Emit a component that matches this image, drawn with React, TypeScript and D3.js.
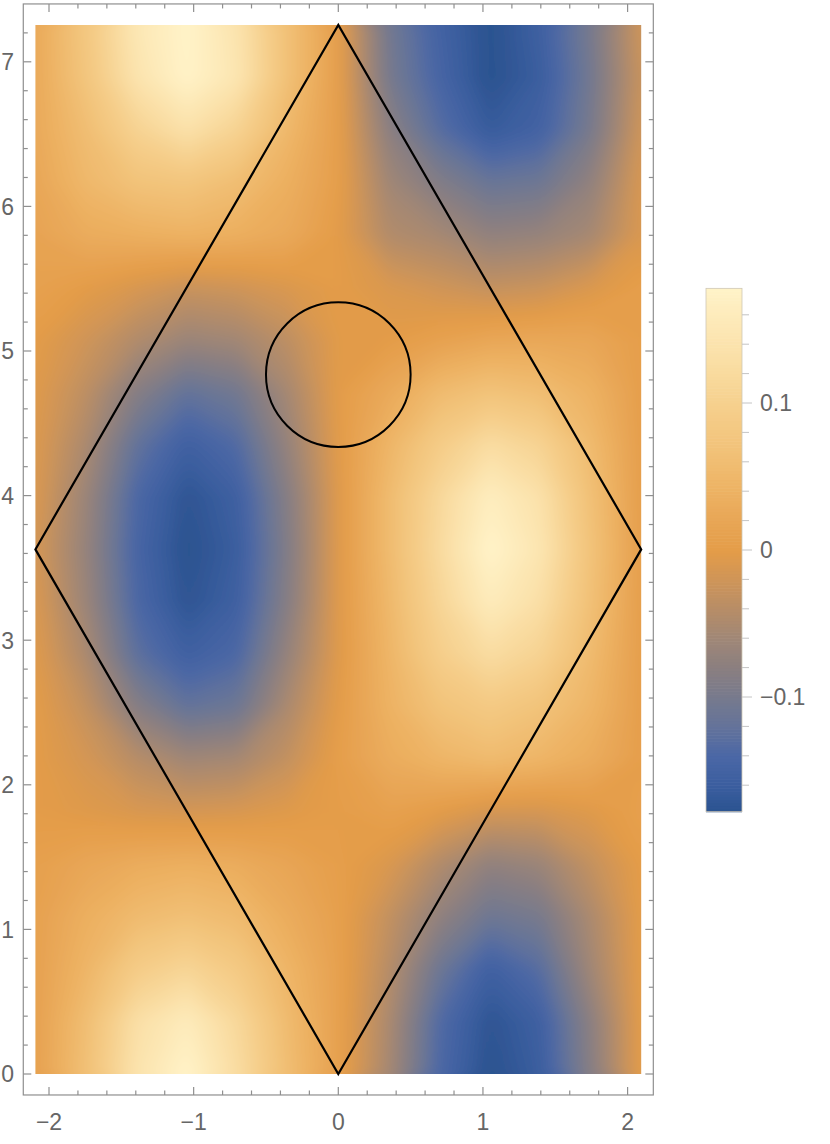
import React, { useEffect, useRef } from 'react';
import * as d3 from 'd3';

const W = 830;
const H = 1144;

// sample points of the density
const gridX = [-2.094, -1.745, -1.396, -1.047, -0.698, -0.349, 0, 0.349, 0.698, 1.047, 1.396, 1.745, 2.094];
const gridY = [0, 0.363, 0.726, 1.088, 1.451, 1.814, 2.177, 2.539, 2.902, 3.265, 3.628, 3.991, 4.354,
  4.716, 5.079, 5.442, 5.805, 6.167, 6.53, 6.893, 7.255];

// one row per gridY value, bottom to top
const field = [
  [0.010, 0.065, 0.140, 0.180, 0.125, 0.060, 0.010, -0.055, -0.140, -0.180, -0.160, -0.085, 0.000],
  [0.010, 0.060, 0.130, 0.160, 0.115, 0.055, 0.010, -0.050, -0.135, -0.175, -0.155, -0.080, 0.000],
  [0.010, 0.045, 0.090, 0.110, 0.085, 0.045, 0.010, -0.040, -0.110, -0.155, -0.130, -0.060, 0.000],
  [0.010, 0.035, 0.055, 0.065, 0.055, 0.030, 0.008, -0.030, -0.075, -0.110, -0.100, -0.050, 0.000],
  [0.008, 0.020, 0.030, 0.035, 0.030, 0.018, 0.005, -0.010, -0.045, -0.075, -0.065, -0.030, 0.002],
  [0.000, -0.005, -0.012, -0.015, -0.012, -0.005, 0.002, 0.010, 0.000, -0.015, -0.015, -0.005, 0.008],
  [0.000, -0.015, -0.040, -0.060, -0.055, -0.030, 0.005, 0.030, 0.045, 0.055, 0.045, 0.030, 0.005],
  [0.000, -0.030, -0.085, -0.120, -0.110, -0.050, 0.000, 0.040, 0.070, 0.085, 0.070, 0.045, 0.005],
  [-0.005, -0.050, -0.125, -0.155, -0.140, -0.070, -0.005, 0.045, 0.095, 0.125, 0.105, 0.055, 0.005],
  [-0.010, -0.065, -0.140, -0.175, -0.155, -0.085, -0.005, 0.050, 0.110, 0.160, 0.130, 0.065, 0.005],
  [-0.015, -0.070, -0.145, -0.180, -0.160, -0.090, -0.005, 0.055, 0.120, 0.180, 0.145, 0.070, 0.005],
  [-0.010, -0.065, -0.140, -0.175, -0.155, -0.085, -0.005, 0.055, 0.115, 0.165, 0.135, 0.065, 0.005],
  [-0.008, -0.050, -0.120, -0.155, -0.135, -0.070, -0.002, 0.045, 0.090, 0.125, 0.105, 0.055, 0.005],
  [-0.005, -0.035, -0.085, -0.120, -0.105, -0.055, 0.000, 0.025, 0.055, 0.070, 0.060, 0.040, 0.005],
  [0.000, -0.020, -0.045, -0.065, -0.058, -0.035, -0.002, 0.000, 0.010, 0.020, 0.022, 0.020, 0.005],
  [0.010, 0.000, -0.012, -0.025, -0.020, -0.010, 0.000, -0.010, -0.020, -0.030, -0.025, -0.010, 0.005],
  [0.015, 0.030, 0.035, 0.040, 0.035, 0.025, 0.000, -0.045, -0.055, -0.075, -0.070, -0.055, -0.010],
  [0.020, 0.050, 0.070, 0.075, 0.060, 0.035, 0.005, -0.060, -0.090, -0.115, -0.110, -0.075, -0.012],
  [0.025, 0.060, 0.105, 0.135, 0.105, 0.050, 0.005, -0.080, -0.130, -0.165, -0.150, -0.100, -0.020],
  [0.025, 0.075, 0.140, 0.178, 0.145, 0.065, 0.005, -0.100, -0.145, -0.180, -0.160, -0.105, -0.025],
  [0.025, 0.080, 0.150, 0.180, 0.140, 0.065, 0.005, -0.105, -0.150, -0.180, -0.155, -0.100, -0.020],
];

// colour gradient (value -> colour)
const gradValues = [-0.178, -0.16, -0.14, -0.12, -0.1, -0.08, -0.06, -0.04, -0.02, 0, 0.02, 0.04, 0.07, 0.1, 0.13, 0.155, 0.178];
const gradColors = ['#2b5390', '#3b5e9f', '#4b67a6', '#64739a', '#777a8d', '#8b7f80', '#a08776', '#b78d67',
  '#cf9558', '#e49c48', '#e8a656', '#edb263', '#f2c37a', '#f6d08e', '#fadfa6', '#fde9b8', '#fff3c8'];
const barRange = [-0.178, 0.178];

const xTicks = [-2, -1, 0, 1, 2];
const yTicks = [0, 1, 2, 3, 4, 5, 6, 7];
const barTicks = [-0.1, 0, 0.1];

// unit cell outline and the circle
const cellX = [0, 2.094, 0, -2.094];
const cellY = [0, 3.628, 7.255, 3.628];
const circleCenter = [0, 4.837];
const circleRadius = 0.5;

const fmt = (v: number) => (v < 0 ? '\u2212' + Math.abs(v) : String(v));

export default function App() {
  const ref = useRef<SVGSVGElement>(null);

  useEffect(() => {
    const svg = d3.select(ref.current);
    svg.selectAll('*').remove();

    const x = d3.scaleLinear().domain([-2, 2]).range([49, 627.6]);
    const y = d3.scaleLinear().domain([0, 7]).range([1074, 61.8]);
    const color = d3.scaleLinear<string>().domain(gradValues).range(gradColors)
      .interpolate(d3.interpolateRgb).clamp(true);

    const x0 = gridX[0], x1 = gridX[gridX.length - 1];
    const y0 = gridY[0], y1 = gridY[gridY.length - 1];
    const padX = (x1 - x0) * 0.02, padY = (y1 - y0) * 0.02;

    const defs = svg.append('defs');
    defs.append('clipPath').attr('id', 'plotClip').append('rect')
      .attr('x', x(x0)).attr('y', y(y1))
      .attr('width', x(x1) - x(x0)).attr('height', y(y0) - y(y1));
    const filt = defs.append('filter').attr('id', 'soften')
      .attr('x', '-5%').attr('y', '-5%').attr('width', '110%').attr('height', '110%');
    filt.append('feGaussianBlur').attr('stdDeviation', 7);

    // density via contour bands
    const nx = gridX.length, ny = gridY.length;
    const values = field.flat();
    const step = 0.003;
    const thresholds = d3.range(-0.186, 0.186, step);
    const bands = d3.contours().size([nx, ny]).thresholds(thresholds)(values);
    const gx = d3.scaleLinear().domain([0.5, nx - 0.5]).range([x(x0), x(x1)]);
    const gy = d3.scaleLinear().domain([0.5, ny - 0.5]).range([y(y0), y(y1)]);
    const path = d3.geoPath(d3.geoTransform({
      point(px: number, py: number) { (this as any).stream.point(gx(px), gy(py)); },
    }));

    const plot = svg.append('g').attr('clip-path', 'url(#plotClip)');
    const dens = plot.append('g').attr('filter', 'url(#soften)');
    dens.append('rect')
      .attr('x', gx(0)).attr('y', gy(ny)).attr('width', gx(nx) - gx(0)).attr('height', gy(0) - gy(ny))
      .attr('fill', color(-0.178));
    dens.selectAll('path.band').data(bands).join('path')
      .attr('class', 'band')
      .attr('d', (d: any) => path(d))
      .attr('fill', (d: any) => color(d.value + step / 2));

    // cell outline
    const line = d3.line<number>().x((_, i) => x(cellX[i])).y((_, i) => y(cellY[i])).curve(d3.curveLinearClosed);
    svg.append('path').attr('d', line(cellX)).attr('fill', 'none')
      .attr('stroke', '#000').attr('stroke-width', 2.2).attr('stroke-linejoin', 'miter');
    svg.append('circle')
      .attr('cx', x(circleCenter[0])).attr('cy', y(circleCenter[1]))
      .attr('r', x(circleRadius) - x(0))
      .attr('fill', 'none').attr('stroke', '#000').attr('stroke-width', 2);

    // frame
    const fx0 = x(x0 - padX), fx1 = x(x1 + padX), fy0 = y(y0 - padY), fy1 = y(y1 + padY);
    const frameColor = '#8f8f8f';
    svg.append('rect').attr('x', fx0).attr('y', fy1).attr('width', fx1 - fx0).attr('height', fy0 - fy1)
      .attr('fill', 'none').attr('stroke', frameColor).attr('stroke-width', 1.2);

    const ticks = svg.append('g').attr('stroke', frameColor).attr('stroke-width', 1.2);
    const xMinor = d3.range(-2, 2.001, 0.2).map((v) => +v.toFixed(2));
    const yMinor = d3.range(0, 7.201, 0.2).map((v) => +v.toFixed(2));
    xMinor.forEach((v) => {
      const len = xTicks.includes(v) ? 8 : 4.5;
      ticks.append('line').attr('x1', x(v)).attr('x2', x(v)).attr('y1', fy0).attr('y2', fy0 - len);
      ticks.append('line').attr('x1', x(v)).attr('x2', x(v)).attr('y1', fy1).attr('y2', fy1 + len);
    });
    yMinor.forEach((v) => {
      const len = yTicks.includes(v) ? 8 : 4.5;
      ticks.append('line').attr('y1', y(v)).attr('y2', y(v)).attr('x1', fx0).attr('x2', fx0 + len);
      ticks.append('line').attr('y1', y(v)).attr('y2', y(v)).attr('x1', fx1).attr('x2', fx1 - len);
    });

    const font = '"Liberation Sans", Arial, sans-serif';
    const labelColor = '#666';
    svg.append('g').selectAll('text').data(xTicks).join('text')
      .attr('x', (d) => x(d)).attr('y', 1130)
      .attr('text-anchor', 'middle').attr('font-family', font).attr('font-size', 23)
      .attr('fill', labelColor).text((d) => fmt(d));
    svg.append('g').selectAll('text').data(yTicks).join('text')
      .attr('x', 14).attr('y', (d) => y(d) + 8.3)
      .attr('text-anchor', 'end').attr('font-family', font).attr('font-size', 23)
      .attr('fill', labelColor).text((d) => fmt(d));

    // colour bar
    const cb = d3.scaleLinear().domain([-0.1, 0.1]).range([697, 403]);
    const barX = 706, barW = 36;
    const slices = d3.range(barRange[0], barRange[1], 0.002);
    svg.append('g').selectAll('rect').data(slices).join('rect')
      .attr('x', barX).attr('width', barW)
      .attr('y', (d) => cb(Math.min(d + 0.002, barRange[1])))
      .attr('height', (d) => cb(d) - cb(Math.min(d + 0.002, barRange[1])) + 0.6)
      .attr('fill', (d) => color(d + 0.001));
    svg.append('rect').attr('x', barX).attr('y', cb(barRange[1])).attr('width', barW)
      .attr('height', cb(barRange[0]) - cb(barRange[1]))
      .attr('fill', 'none').attr('stroke', '#cfc7b5').attr('stroke-width', 0.8);
    const barMinor = d3.range(-0.16, 0.1601, 0.02).map((v) => +v.toFixed(2));
    svg.append('g').selectAll('line').data(barMinor).join('line')
      .attr('x1', barX + barW).attr('x2', (d) => barX + barW + (barTicks.includes(d) ? 10 : 7))
      .attr('y1', (d) => cb(d)).attr('y2', (d) => cb(d))
      .attr('stroke', '#c4c4c4').attr('stroke-width', 1);
    svg.append('g').selectAll('text').data(barTicks).join('text')
      .attr('x', 760).attr('y', (d) => cb(d) + 8.3)
      .attr('font-family', font).attr('font-size', 23)
      .attr('fill', labelColor).text((d) => fmt(d));
  }, []);

  return (
    <svg ref={ref} width={W} height={H}
      style={{ position: 'absolute', left: 0, top: 0, background: '#fff' }} />
  );
}
